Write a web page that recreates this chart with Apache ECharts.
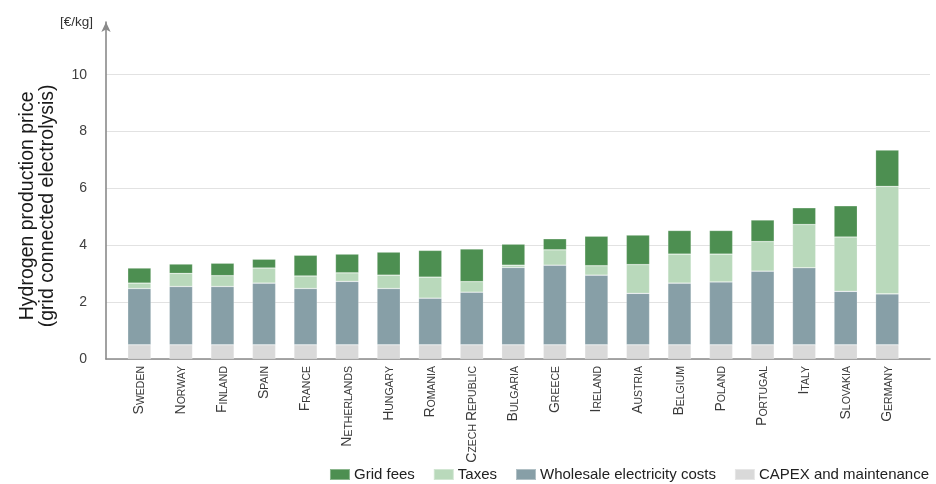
<!DOCTYPE html>
<html>
<head>
<meta charset="utf-8">
<script src="https://cdn.jsdelivr.net/npm/echarts@6/dist/echarts.min.js"></script>
<style>
html,body{margin:0;padding:0;background:#fff;}
#chart{width:936px;height:484px;}
</style>
</head>
<body>
<div id="chart"></div>
<script>
// values, EUR per kg
var countries=['Sweden','Norway','Finland','Spain','France','Netherlands','Hungary','Romania','Czech Republic','Bulgaria','Greece','Ireland','Austria','Belgium','Poland','Portugal','Italy','Slovakia','Germany'];
var capex=[0.5,0.5,0.5,0.5,0.5,0.5,0.5,0.5,0.5,0.5,0.5,0.5,0.5,0.5,0.5,0.5,0.5,0.5,0.5];
var wholesale=[1.98,2.05,2.05,2.17,1.98,2.23,1.98,1.64,1.85,2.72,2.80,2.45,1.81,2.17,2.21,2.59,2.71,1.88,1.79];
var taxes=[0.19,0.46,0.38,0.53,0.44,0.30,0.47,0.74,0.37,0.08,0.54,0.33,1.01,1.02,0.98,1.04,1.52,1.91,3.78];
var gridFees=[0.53,0.33,0.44,0.31,0.73,0.66,0.81,0.94,1.15,0.74,0.39,1.04,1.04,0.83,0.83,0.76,0.59,1.10,1.28];
var yTicks={min:0,max:10,step:2};

var F='"Liberation Sans", Arial, sans-serif';
var axisGray='#8a8a8a';

// small caps: first letter of each word big, the rest smaller
function smallCaps(s){
	return s.split(' ').map(function(w){
		return '{b|'+w.charAt(0).toUpperCase()+'}{s|'+w.slice(1).toUpperCase()+'}';
	}).join('{s| }');
}

function bar(name,data,color){
	return {
		name:name,type:'bar',stack:'total',xAxisIndex:2,yAxisIndex:2,
		data:data,barWidth:'56%',
		itemStyle:{color:color,borderColor:'rgba(255,255,255,0.35)',borderWidth:0.6},
		emphasis:{disabled:true}
	};
}

var chart=echarts.init(document.getElementById('chart'),null,{renderer:'canvas'});
chart.setOption({
	animation:false,
	textStyle:{fontFamily:F},
	grid:[
		{left:106,right:6,top:22,bottom:125},      // axis lines + arrow
		{left:106,right:6,top:74.7,bottom:125},    // split lines and tick labels
		{left:118.6,right:28,top:74.7,bottom:125}  // bars
	],
	xAxis:[
		{gridIndex:0,type:'value',min:0,max:1,axisLine:{show:true,onZero:false,lineStyle:{color:axisGray,width:1.6}},axisTick:{show:false},axisLabel:{show:false},splitLine:{show:false}},
		{gridIndex:1,type:'value',min:0,max:1,show:false},
		{gridIndex:2,type:'category',data:countries,
			axisLine:{show:false},axisTick:{show:false},
			axisLabel:{rotate:90,margin:7,interval:0,color:'#3a3a3a',
				formatter:function(v){return smallCaps(v);},
				rich:{
					b:{fontSize:14,fontFamily:F,color:'#3a3a3a',verticalAlign:'bottom'},
					s:{fontSize:10.5,fontFamily:F,color:'#3a3a3a',verticalAlign:'bottom'}
				}
			}
		}
	],
	yAxis:[
		{gridIndex:0,type:'value',min:0,max:1,
			name:'[€/kg]',nameLocation:'end',nameGap:0,
			nameTextStyle:{fontSize:13.5,color:'#333',align:'right',verticalAlign:'middle',padding:[0,13,0,0]},
			axisLine:{show:true,lineStyle:{color:axisGray,width:1.6},symbol:['none','arrow'],symbolSize:[7,10]},
			axisTick:{show:false},axisLabel:{show:false},splitLine:{show:false}},
		{gridIndex:1,type:'value',min:yTicks.min,max:yTicks.max,interval:yTicks.step,
			name:'Hydrogen production price\n(grid connected electrolysis)',
			nameLocation:'middle',nameGap:48,
			nameTextStyle:{fontSize:19.5,color:'#1a1a1a',lineHeight:20,padding:[0,0,0,22]},
			axisLine:{show:false},axisTick:{show:false},
			axisLabel:{fontSize:14,color:'#404040',margin:19},
			splitLine:{lineStyle:{color:'#e2e2e2',width:1}}},
		{gridIndex:2,type:'value',min:yTicks.min,max:yTicks.max,show:false}
	],
	legend:{
		right:2,top:462,itemWidth:20,itemHeight:11,itemGap:18,
		icon:'rect',
		textStyle:{fontSize:15,color:'#222',padding:[0,0,0,-1]},
		data:['Grid fees','Taxes','Wholesale electricity costs','CAPEX and maintenance']
	},
	series:[
		bar('CAPEX and maintenance',capex,'#d9d9d9'),
		bar('Wholesale electricity costs',wholesale,'#879fa7'),
		bar('Taxes',taxes,'#b9d9bb'),
		bar('Grid fees',gridFees,'#4d8f51')
	]
});
</script>
</body>
</html>
